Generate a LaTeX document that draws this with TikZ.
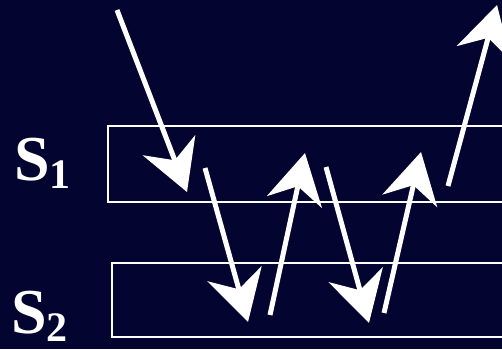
\documentclass[tikz,border=0pt]{standalone}
\usepackage{fontspec}
\setmainfont{Liberation Serif}
\usepackage{tikz}
\usetikzlibrary{arrows.meta, positioning}
\definecolor{night}{RGB}{4,4,48}

\begin{document}
\begin{tikzpicture}[x=1pt, y=-1pt]
    \tikzstyle{layer} = [draw=white, line width=2.4pt]
    \tikzstyle{ray} = [white, line width=5pt, -{Stealth[length=50pt, width=56pt, inset=16pt]}]
    \tikzstyle{tag} = [text=white, inner sep=0pt, anchor=base west, font=\bfseries\fontsize{64}{66}\selectfont]

    \fill[night] (0,0) rectangle (502,349);
    \useasboundingbox (0,0) rectangle (502,349);

    % the two layers
    \draw[layer] (108,126) rectangle (520,202);
    \draw[layer] (112,263) rectangle (520,337);
    \node (s1) [tag] at (14,180) {S\raisebox{-8pt}{\fontsize{42}{42}\selectfont 1}};
    \node (s2) [tag] at (11,333) {S\raisebox{-8pt}{\fontsize{42}{42}\selectfont 2}};

    % ray path
    \coordinate (in) at (117,10);
    \coordinate (hit1) at (187,192);
    \coordinate (top1) at (205,168);
    \coordinate (hit2) at (248,322);
    \coordinate (bot2) at (270,315);
    \coordinate (hit3) at (305,153);
    \coordinate (top3) at (326,167);
    \coordinate (hit4) at (369,323);
    \coordinate (bot4) at (384,313);
    \coordinate (hit5) at (421,152);
    \coordinate (top5) at (448,186);
    \coordinate (out) at (497,5);

    \draw[ray] (in) -- (hit1);
    \draw[ray] (top1) -- (hit2);
    \draw[ray] (bot2) -- (hit3);
    \draw[ray] (top3) -- (hit4);
    \draw[ray] (bot4) -- (hit5);
    \draw[ray] (top5) -- (out);
\end{tikzpicture}
\end{document}
